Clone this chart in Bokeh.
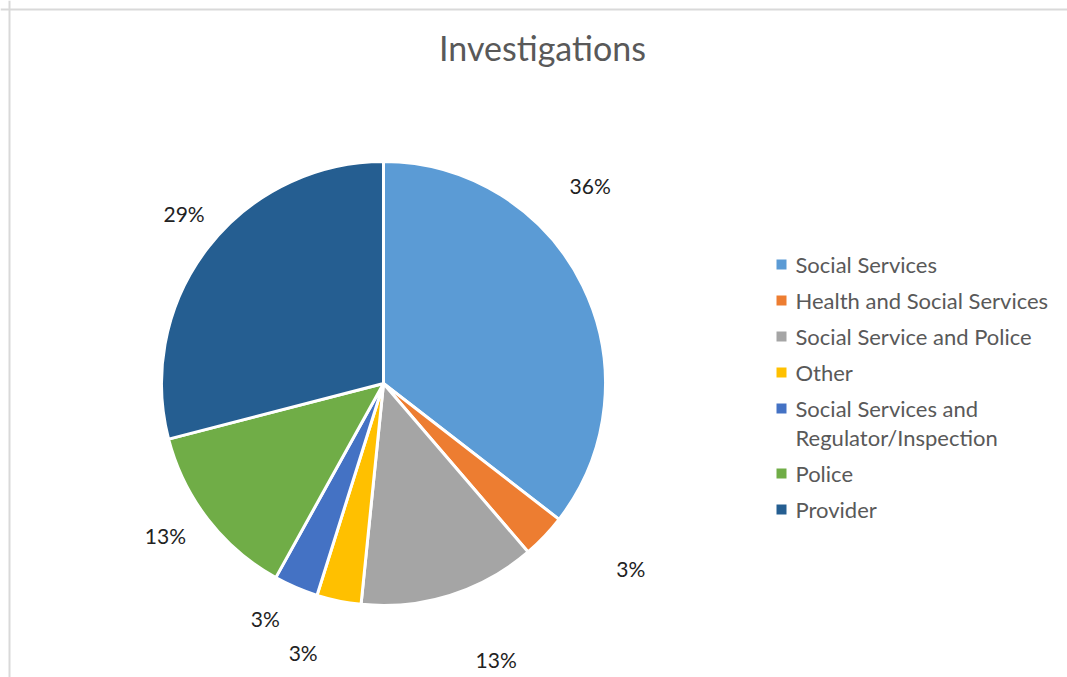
import math
from bokeh.plotting import figure
from bokeh.models import Range1d, Span, ColumnDataSource
from bokeh.core.properties import value
from bokeh.embed import file_html
from bokeh.resources import INLINE

# ---- data ----
categories = ["Social Services", "Health and Social Services", "Social Service and Police",
              "Other", "Social Services and\nRegulator/Inspection", "Police", "Provider"]
counts = [11, 1, 4, 1, 1, 4, 9]
pct_labels = ["36%", "3%", "13%", "3%", "3%", "13%", "29%"]
colors = ["#5B9BD5", "#ED7D31", "#A5A5A5", "#FFC000", "#4472C4", "#70AD47", "#255E91"]
title_text = "Investigations"

# ---- styling / layout ----
W, H = 1067, 677
TOP = 677  # page-coordinate reference
FONT = "Lato"
cx, cy, R = 383, TOP - 383, 222
# label placement relative to slice mid angle (degrees shift, radius px)
label_shift = [17.6, 6.7, 4.8, -5.0, -3.5, -2.8, -2.7]
label_radius = [286, 309, 298, 281, 263, 266, 262]

p = figure(width=W, height=H, output_backend="svg", toolbar_location=None,
           x_range=Range1d(0, W), y_range=Range1d(TOP - H, TOP),
           x_axis_location=None, y_axis_location=None, min_border=0)
p.grid.visible = False
p.outline_line_color = None
p.background_fill_color = "white"
p.border_fill_color = "white"

# frame (top and left)
p.add_layout(Span(location=9, dimension="height", line_color="#D9D9D9", line_width=2))
p.add_layout(Span(location=TOP - 9, dimension="width", line_color="#D9D9D9", line_width=2))

total = sum(counts)
starts, ends, mids = [], [], []
cum = 0
for c in counts:
    a0 = math.pi / 2 - 2 * math.pi * cum / total
    cum += c
    a1 = math.pi / 2 - 2 * math.pi * cum / total
    starts.append(a0)
    ends.append(a1)
    mids.append((a0 + a1) / 2)

src = ColumnDataSource(dict(start=starts, end=ends, color=colors))
p.wedge(x=cx, y=cy, radius=R, start_angle="start", end_angle="end", direction="clock",
        fill_color="color", line_color="white", line_width=3, source=src)

lx = [cx + r * math.cos(m + math.radians(s)) for m, s, r in zip(mids, label_shift, label_radius)]
ly = [cy + r * math.sin(m + math.radians(s)) for m, s, r in zip(mids, label_shift, label_radius)]
p.text(x=lx, y=ly, text=pct_labels, text_font=value(FONT), text_font_size="21px",
       text_color="#222222", text_align="center", text_baseline="middle")

# title
p.text(x=[542], y=[TOP - 47], text=[title_text], text_font=value(FONT), text_font_size="34px",
       text_color="#595959", text_align="center", text_baseline="middle")

# legend
row_y = []
y = TOP - 264
for name in categories:
    row_y.append(y)
    y -= 36 + 29 * name.count("\n")
p.scatter(x=[781] * len(categories), y=row_y, marker="square", size=10,
          fill_color=colors, line_color=None)
p.text(x=[795] * len(categories), y=row_y, text=categories, text_font=value(FONT),
       text_font_size="22px", text_color="#595959", text_align="left", text_baseline="top",
       text_line_height=1.1, y_offset=-14)

open("out.html", "w").write(file_html(p, INLINE))
